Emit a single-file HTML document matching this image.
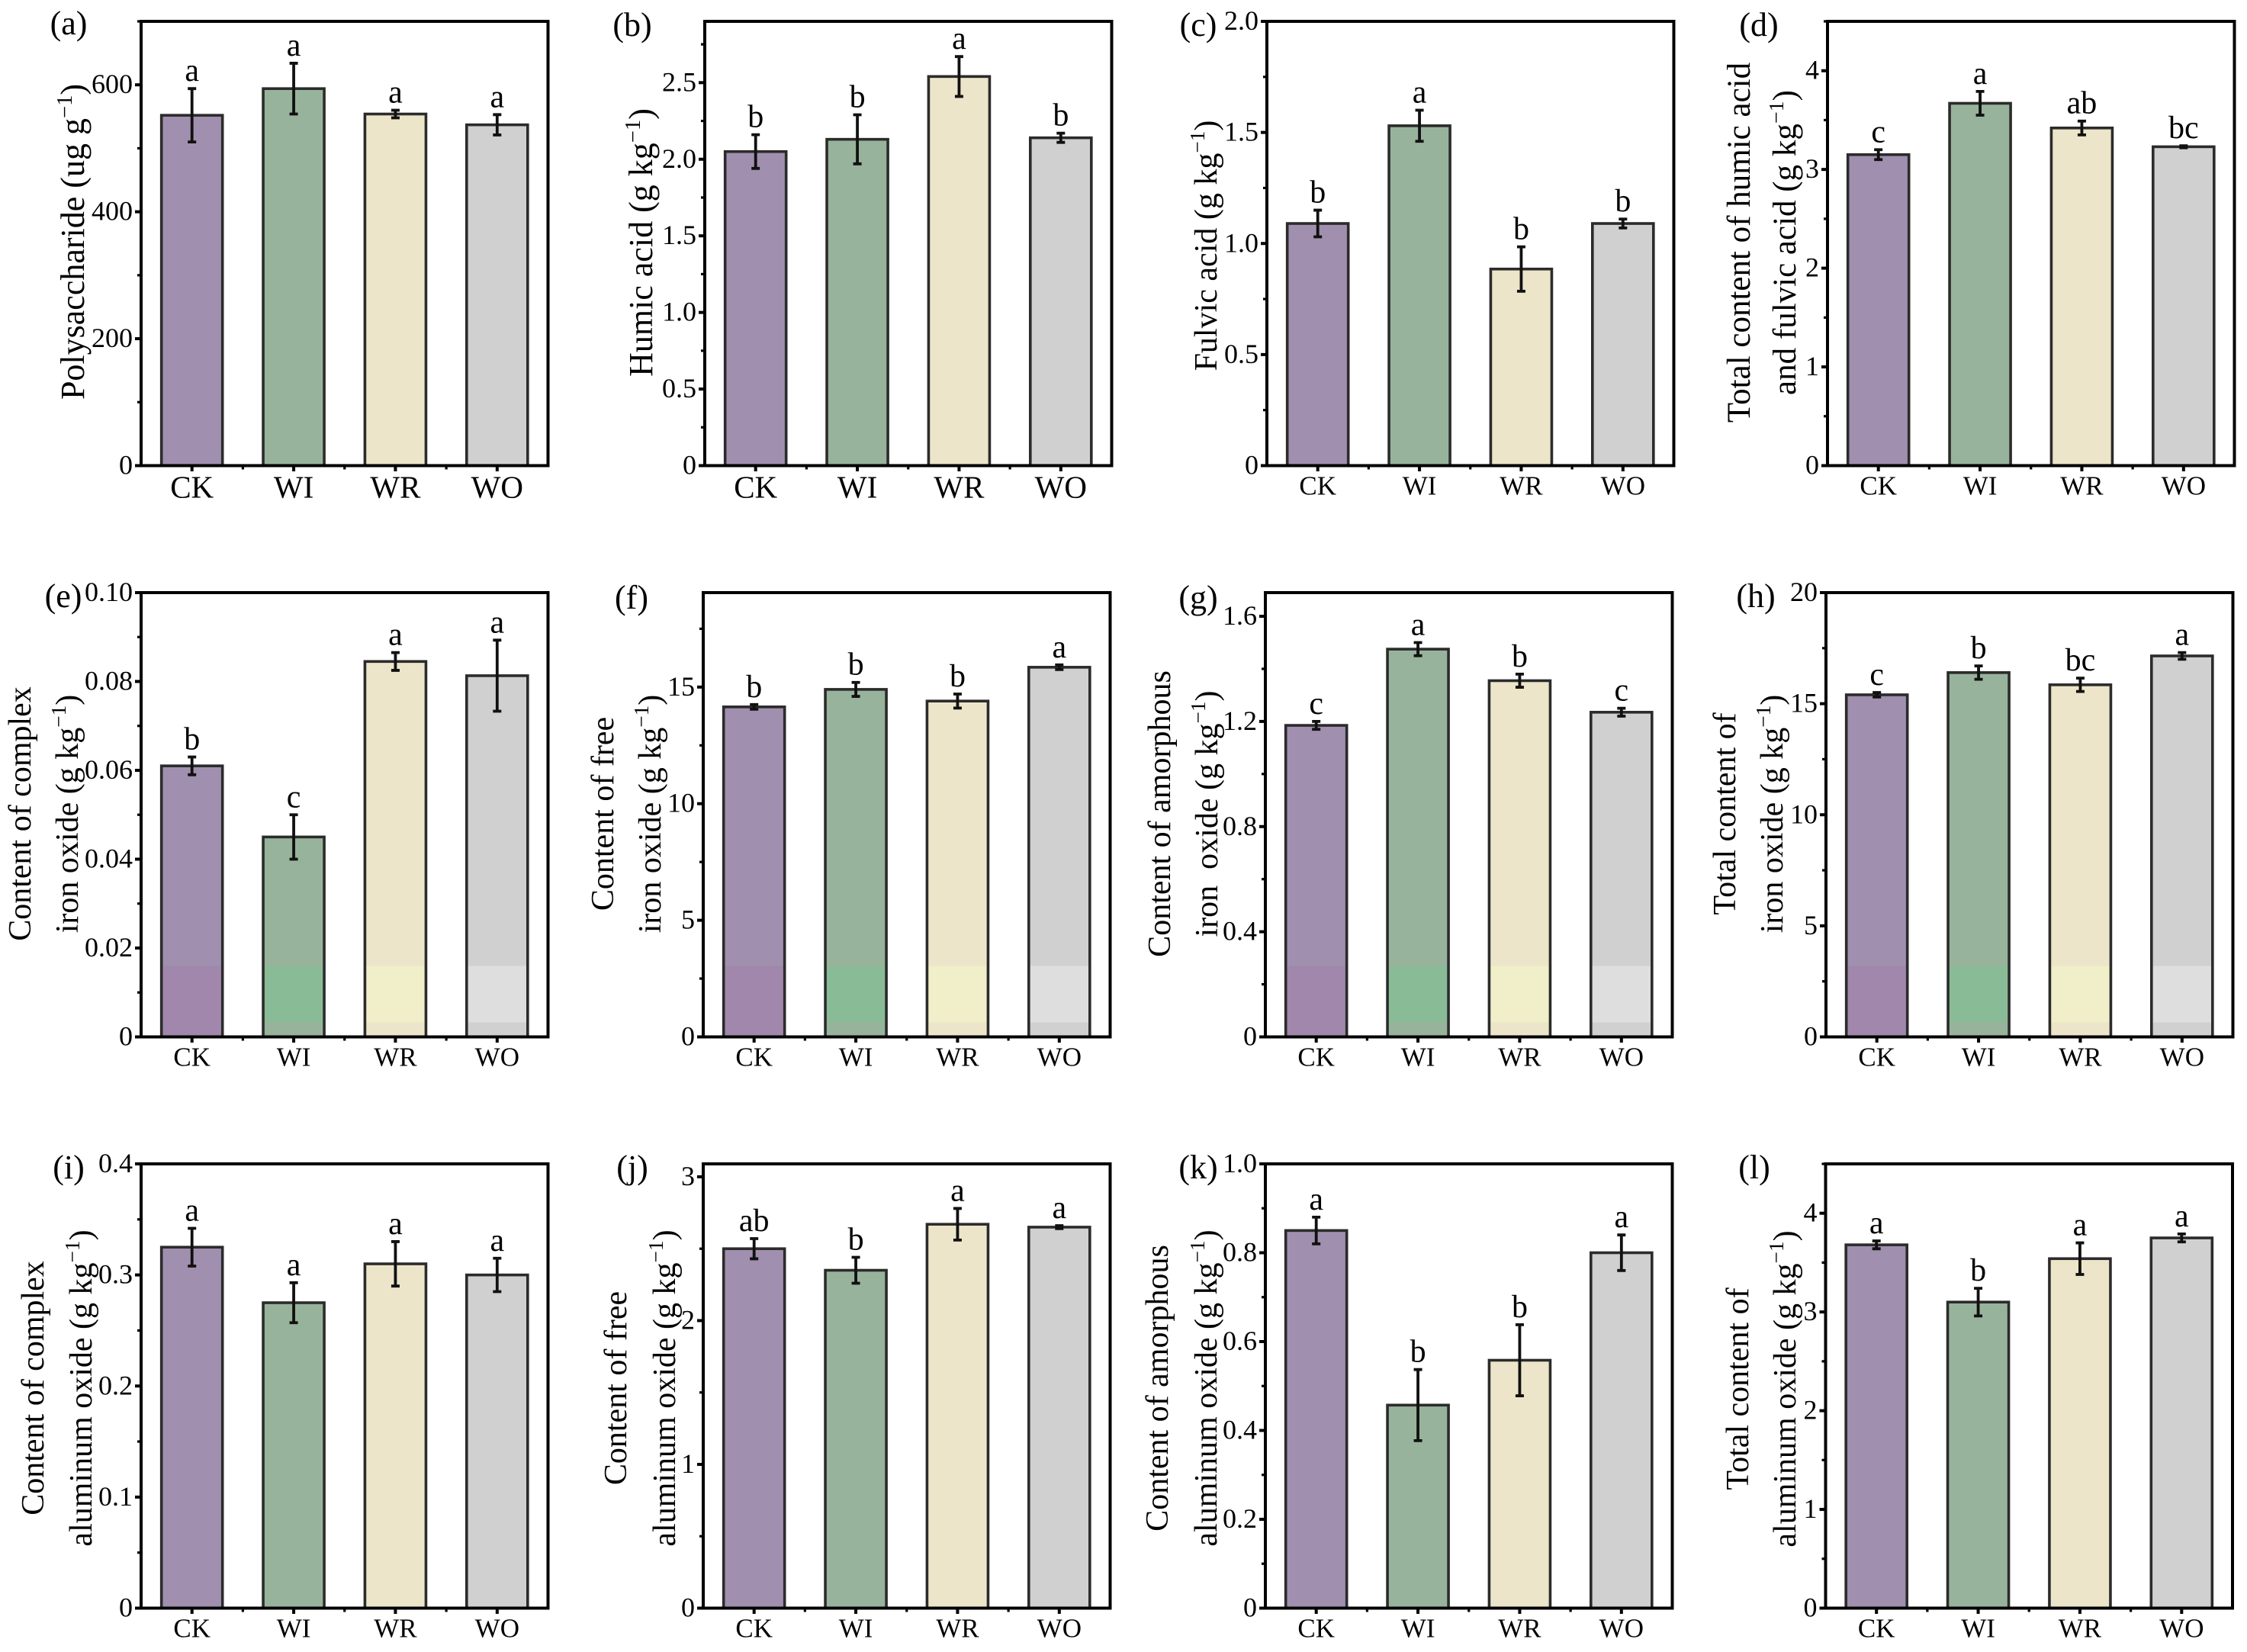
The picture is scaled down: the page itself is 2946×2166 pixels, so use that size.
<!DOCTYPE html>
<html lang="en">
<head>
<meta charset="utf-8">
<title>Soil polysaccharide, humic substances, iron and aluminum oxide bar charts</title>
<style>
html,body{margin:0;padding:0;background:#fff;width:2946px;height:2166px;overflow:hidden}
svg{display:block;font-family:"Liberation Serif",serif;fill:#000}
</style>
</head>
<body>
<svg id="figure" xmlns="http://www.w3.org/2000/svg" width="2946" height="2166" viewBox="0 0 2946 2166"></svg>
<script>
const categories = ['CK', 'WI', 'WR', 'WO'];

const valuesA = [552, 594, 554, 537];
const errorsA = [42, 40, 6, 16];
const lettersA = ['a', 'a', 'a', 'a'];
const valuesB = [2.05, 2.13, 2.54, 2.14];
const errorsB = [0.11, 0.16, 0.13, 0.03];
const lettersB = ['b', 'b', 'a', 'b'];
const valuesC = [1.09, 1.53, 0.885, 1.09];
const errorsC = [0.06, 0.07, 0.1, 0.02];
const lettersC = ['b', 'a', 'b', 'b'];
const valuesD = [3.15, 3.67, 3.42, 3.23];
const errorsD = [0.05, 0.12, 0.07, 0.01];
const lettersD = ['c', 'a', 'ab', 'bc'];
const valuesE = [0.061, 0.045, 0.0845, 0.0813];
const errorsE = [0.002, 0.005, 0.002, 0.008];
const lettersE = ['b', 'c', 'a', 'a'];
const valuesF = [14.15, 14.9, 14.4, 15.85];
const errorsF = [0.1, 0.3, 0.3, 0.1];
const lettersF = ['b', 'b', 'b', 'a'];
const valuesG = [1.185, 1.475, 1.355, 1.235];
const errorsG = [0.015, 0.025, 0.025, 0.015];
const lettersG = ['c', 'a', 'b', 'c'];
const valuesH = [15.4, 16.4, 15.85, 17.15];
const errorsH = [0.1, 0.3, 0.3, 0.15];
const lettersH = ['c', 'b', 'bc', 'a'];
const valuesI = [0.325, 0.275, 0.31, 0.3];
const errorsI = [0.017, 0.018, 0.02, 0.015];
const lettersI = ['a', 'a', 'a', 'a'];
const valuesJ = [2.5, 2.35, 2.67, 2.65];
const errorsJ = [0.07, 0.09, 0.11, 0.01];
const lettersJ = ['ab', 'b', 'a', 'a'];
const valuesK = [0.85, 0.457, 0.558, 0.8];
const errorsK = [0.03, 0.08, 0.08, 0.04];
const lettersK = ['a', 'b', 'b', 'a'];
const valuesL = [3.68, 3.1, 3.54, 3.75];
const errorsL = [0.04, 0.14, 0.16, 0.04];
const lettersL = ['a', 'b', 'a', 'a'];

const ticksA = ['0', '200', '400', '600'];
const ticksB = ['0', '0.5', '1.0', '1.5', '2.0', '2.5'];
const ticksC = ['0', '0.5', '1.0', '1.5', '2.0'];
const ticksD = ['0', '1', '2', '3', '4'];
const ticksE = ['0', '0.02', '0.04', '0.06', '0.08', '0.10'];
const ticksF = ['0', '5', '10', '15'];
const ticksG = ['0', '0.4', '0.8', '1.2', '1.6'];
const ticksH = ['0', '5', '10', '15', '20'];
const ticksI = ['0', '0.1', '0.2', '0.3', '0.4'];
const ticksJ = ['0', '1', '2', '3'];
const ticksK = ['0', '0.2', '0.4', '0.6', '0.8', '1.0'];
const ticksL = ['0', '1', '2', '3', '4'];

const yMaxima = [700, 2.9, 2.0, 4.5, 0.1, 19.05, 1.69, 20, 0.4, 3.09, 1.0, 4.5];

const panelLabels = ['(a)', '(b)', '(c)', '(d)', '(e)', '(f)', '(g)', '(h)', '(i)', '(j)', '(k)', '(l)'];
const titlesA = ['Polysaccharide (ug g^−1^)'];
const titlesB = ['Humic acid (g kg^−1^)'];
const titlesC = ['Fulvic acid (g kg^−1^)'];
const titlesD = ['Total content of humic acid', 'and fulvic acid (g kg^−1^)'];
const titlesE = ['Content of complex', 'iron oxide (g kg^−1^)'];
const titlesF = ['Content of free', 'iron oxide (g kg^−1^)'];
const titlesG = ['Content of amorphous', 'iron  oxide (g kg^−1^)'];
const titlesH = ['Total content of', 'iron oxide (g kg^−1^)'];
const titlesI = ['Content of complex', 'aluminum oxide (g kg^−1^)'];
const titlesJ = ['Content of free', 'aluminum oxide (g kg^−1^)'];
const titlesK = ['Content of amorphous', 'aluminum oxide (g kg^−1^)'];
const titlesL = ['Total content of', 'aluminum oxide (g kg^−1^)'];

const seriesValues = [valuesA, valuesB, valuesC, valuesD, valuesE, valuesF, valuesG, valuesH, valuesI, valuesJ, valuesK, valuesL];
const seriesErrors = [errorsA, errorsB, errorsC, errorsD, errorsE, errorsF, errorsG, errorsH, errorsI, errorsJ, errorsK, errorsL];
const seriesLetters = [lettersA, lettersB, lettersC, lettersD, lettersE, lettersF, lettersG, lettersH, lettersI, lettersJ, lettersK, lettersL];
const tickSets = [ticksA, ticksB, ticksC, ticksD, ticksE, ticksF, ticksG, ticksH, ticksI, ticksJ, ticksK, ticksL];
const titleSets = [titlesA, titlesB, titlesC, titlesD, titlesE, titlesF, titlesG, titlesH, titlesI, titlesJ, titlesK, titlesL];

/* layout (pixels), separate from data */
const frameLefts = [185, 924, 1661, 2396, 185, 922, 1659, 2394, 185, 922, 1659, 2393.5];
const frameTops = [28, 777, 1526];
const frameWidth = 533.5;
const frameHeight = 582.5;
const labelCenters = [[90, 34], [829, 36], [1571, 36], [2306, 36], [83, 785], [828, 787], [1571, 787], [2302, 785], [90, 1534], [829, 1534], [1571, 1534], [2300, 1534]];
const titleColumns = [[96], [841], [1581], [2280, 2340], [26, 88], [790, 852], [1520, 1582], [2261, 2323], [43, 106], [807, 871], [1517, 1581], [2278, 2340]];
const titleCenters = [317, 318, 322, 318, 1067, 1067, 1067, 1067, 1820, 1820, 1820, 1821];
const titleSizes = [44, 44, 42, 43, 42, 42, 42, 42, 42, 42, 42, 42];
const xFontSizes = [41, 41, 35, 35, 35, 35, 35, 35, 35, 35, 35, 35];
const fills = ['#a08fae', '#98b39b', '#ede5c9', '#d0d0d0'];
const bandFills = ['#a087ab', '#8abb97', '#f0efc9', '#dedede'];
const colKeys = ['ck', 'wi', 'wr', 'wo'];
const NS = 'http://www.w3.org/2000/svg';
const figure = document.getElementById('figure');

function el(tag, attrs, parent) {
  const node = document.createElementNS(NS, tag);
  for (const k in attrs) node.setAttribute(k, attrs[k]);
  parent.appendChild(node);
  return node;
}

function yAxis(v, top, max) {
  return top + frameHeight - (v / max) * frameHeight;
}

function xAxis(i, left) {
  return left + (i + 0.5) * frameWidth / categories.length;
}

seriesValues.forEach(function (values, p) {
  const key = panelLabels[p].charAt(1);
  const left = frameLefts[p];
  const row = Math.floor(p / 4);
  const top = frameTops[row];
  const bottom = top + frameHeight;
  const right = left + frameWidth;
  const max = yMaxima[p];
  const catStep = frameWidth / categories.length;
  const barW = catStep * 0.6;

  const g = el('g', {}, figure);
  
  

  values.forEach(function (value, i) {
    const cx = xAxis(i, left);
    const by = yAxis(value, top, max);
    const bar = el('rect', { x: cx - barW / 2, y: by, width: barW, height: bottom - by, fill: fills[i] }, g);
    
    
    if (row === 1) {
      const bandTop = Math.max(by, bottom - 93);
      const bandBottom = i === 0 ? bottom : bottom - 19;
      const band = el('rect', { x: cx - barW / 2, y: bandTop, width: barW, height: Math.max(0, bandBottom - bandTop), fill: bandFills[i] }, g);
      
      
    }
    const edge = el('rect', { x: cx - barW / 2, y: by, width: barW, height: bottom - by, fill: 'none', stroke: '#2b2b2b', 'stroke-width': 3.6 }, g);
    
    

    const err = seriesErrors[p][i];
    const yHi = yAxis(value + err, top, max);
    const yLo = yAxis(value - err, top, max);
    const d = 'M' + cx + ' ' + yHi + 'V' + yLo + 'M' + (cx - 5.5) + ' ' + yHi + 'H' + (cx + 5.5) + 'M' + (cx - 5.5) + ' ' + yLo + 'H' + (cx + 5.5);
    const eb = el('path', { d: d, fill: 'none', stroke: '#111', 'stroke-width': 3.8 }, g);
    
    

    const letter = el('text', { x: cx, y: yHi - 10, 'font-size': 42, 'text-anchor': 'middle' }, g);
    letter.textContent = seriesLetters[p][i];
    
    

    const xt = el('line', { x1: cx, x2: cx, y1: bottom, y2: bottom + 7.5, stroke: '#000', 'stroke-width': 4 }, g);
    
    
    const xl = el('text', { x: cx, y: bottom + (xFontSizes[p] > 35 ? 42 : 38), 'font-size': xFontSizes[p], 'text-anchor': 'middle' }, g);
    xl.textContent = categories[i];
    
    
    if (i > 0) {
      const xm = el('line', { x1: cx - catStep / 2, x2: cx - catStep / 2, y1: bottom, y2: bottom + 5, stroke: '#000', 'stroke-width': 3.2 }, g);
      
      
    }
  });

  const ticks = tickSets[p];
  ticks.forEach(function (label, i) {
    const v = parseFloat(label);
    const ty = yAxis(v, top, max);
    const tk = el('line', { x1: left - 8, x2: left, y1: ty, y2: ty, stroke: '#000', 'stroke-width': 4 }, g);
    
    
    const tl = el('text', { x: left - 11, y: ty + 11, 'font-size': 36, 'text-anchor': 'end' }, g);
    tl.textContent = label;
    
    
    const step = parseFloat(ticks[1]) - parseFloat(ticks[0]);
    const mv = v + step / 2;
    if (mv <= max) {
      const my = yAxis(mv, top, max);
      const mt = el('line', { x1: left - 5, x2: left, y1: my, y2: my, stroke: '#000', 'stroke-width': 3.2 }, g);
      
      
    }
  });

  const frame = el('rect', { x: left, y: top, width: right - left, height: frameHeight, fill: 'none', stroke: '#000', 'stroke-width': 4 }, g);
  
  

  const pl = el('text', { x: labelCenters[p][0], y: labelCenters[p][1] + 11, 'font-size': 44, 'text-anchor': 'middle' }, g);
  pl.textContent = panelLabels[p];
  
  

  titleSets[p].forEach(function (line, li) {
    const tx = titleColumns[p][li];
    const ty = titleCenters[p];
    const size = titleSizes[p];
    const t = el('text', { transform: 'rotate(-90 ' + tx + ' ' + ty + ')', x: tx, y: ty + 14, 'font-size': size, 'text-anchor': 'middle', style: 'white-space:pre' }, g);
    
    
    line.split('^').forEach(function (part, pi) {
      const attrs = {};
      if (pi === 1) { attrs.dy = -16; attrs['font-size'] = size * 0.65; }
      if (pi === 2) { attrs.dy = 16; }
      const span = el('tspan', attrs, t);
      span.textContent = part;
    });
  });
});
</script>
</body>
</html>
